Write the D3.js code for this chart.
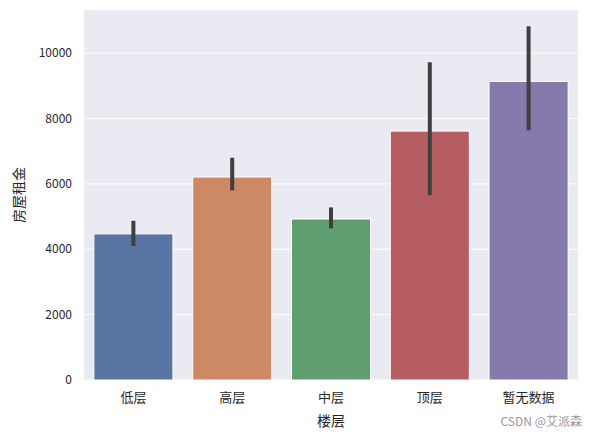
<!DOCTYPE html>
<html><head><meta charset="utf-8">
<script src="https://cdn.jsdelivr.net/npm/d3@7"></script>
<style>body{margin:0;background:#fff}text{font-family:"Noto Sans CJK SC","DejaVu Sans",sans-serif}</style>
</head><body><svg id="c" width="589" height="438"></svg>
<script>
const categories = ["低层","高层","中层","顶层","暂无数据"];
const means = [4470, 6210, 4925, 7615, 9135];
const ciLow = [4100, 5800, 4640, 5660, 7640];
const ciHigh = [4870, 6800, 5280, 9720, 10820];
const colors = ["#5975a4","#cc8963","#5f9e6e","#b55d60","#857aab"];
const yTicks = [0,2000,4000,6000,8000,10000];

const svg = d3.select("#c");
const L=84,R=578,T=10,B=380;
svg.append("rect").attr("x",L).attr("y",T).attr("width",R-L).attr("height",B-T).attr("fill","#eaeaf2");
const x = d3.scaleBand().domain(categories).range([L,R]).paddingInner(0.2).paddingOuter(0.1);
const y = d3.scaleLinear().domain([0,11320]).range([B,T]);
svg.selectAll(".g").data(yTicks).enter().append("line").attr("x1",L).attr("x2",R)
 .attr("y1",d=>y(d)).attr("y2",d=>y(d)).attr("stroke","#fff").attr("stroke-width",1);
svg.selectAll(".b").data(categories).enter().append("rect")
 .attr("x",d=>x(d)).attr("width",x.bandwidth()).attr("y",(d,i)=>y(means[i]))
 .attr("height",(d,i)=>B-y(means[i])).attr("fill",(d,i)=>colors[i]).attr("stroke","#fff").attr("stroke-width",1);
svg.selectAll(".e").data(categories).enter().append("line")
 .attr("x1",d=>x(d)+x.bandwidth()/2).attr("x2",d=>x(d)+x.bandwidth()/2)
 .attr("y1",(d,i)=>y(ciLow[i])).attr("y2",(d,i)=>y(ciHigh[i]))
 .attr("stroke","#3f3f3f").attr("stroke-width",4);
svg.selectAll(".yt").data(yTicks).enter().append("text").attr("x",L-12).attr("y",d=>y(d)+4)
 .attr("text-anchor","end").attr("font-size",12).attr("fill","#262626").text(d=>d);
svg.selectAll(".xt").data(categories).enter().append("text").attr("x",d=>x(d)+x.bandwidth()/2).attr("y",B+22)
 .attr("text-anchor","middle").attr("font-size",13).attr("fill","#262626").text(d=>d);
svg.append("text").attr("x",(L+R)/2).attr("y",B+46).attr("text-anchor","middle").attr("font-size",14).attr("fill","#262626").text("楼层");
svg.append("text").attr("transform",`translate(24,${(T+B)/2}) rotate(-90)`).attr("text-anchor","middle").attr("font-size",14).attr("fill","#262626").text("房屋租金");
svg.append("text").attr("x",582).attr("y",426).attr("text-anchor","end").attr("font-size",12).attr("fill","#999").text("CSDN @艾派森");
</script></body></html>
